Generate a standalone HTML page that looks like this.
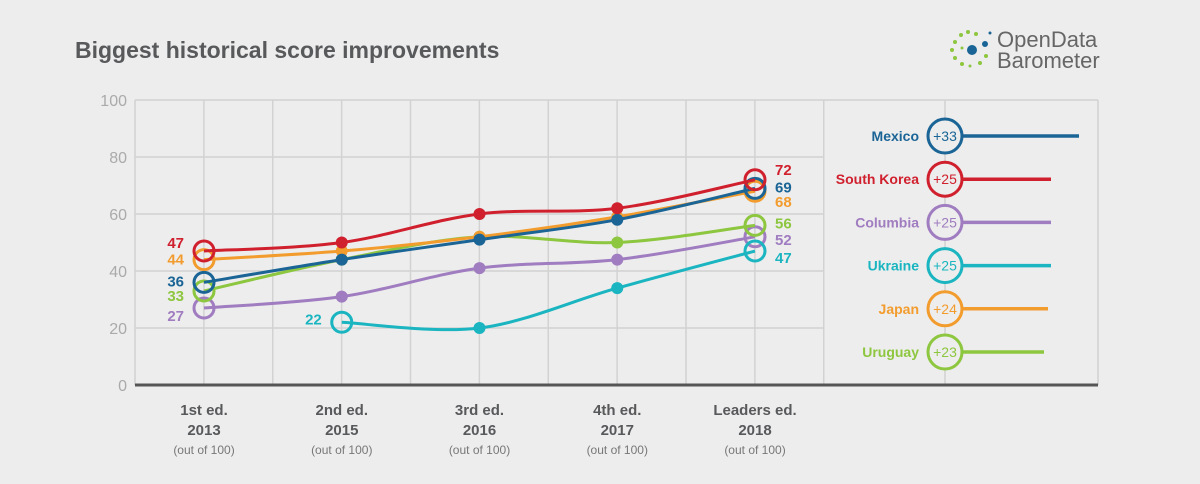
<!DOCTYPE html>
<html><head><meta charset="utf-8"><style>
body{margin:0;background:#ededed;}
svg{display:block;font-family:"Liberation Sans",sans-serif;}
</style></head><body>
<svg id="c" width="1200" height="484" viewBox="0 0 1200 484">
<rect width="1200" height="484" fill="#ededed"/>
<text x="75" y="58" font-size="23" font-weight="bold" fill="#58595b">Biggest historical score improvements</text>
<g>
<circle cx="972" cy="50" r="5" fill="#1a6496"/><circle cx="985" cy="44" r="3" fill="#1a6496"/><circle cx="990" cy="33" r="1.5" fill="#1a6496"/>
<g fill="#8dc63f"><circle cx="955" cy="42" r="2"/><circle cx="952" cy="50" r="2"/><circle cx="955" cy="58" r="2"/><circle cx="961" cy="35" r="2"/><circle cx="968" cy="32" r="2"/><circle cx="976" cy="34" r="2"/><circle cx="962" cy="64" r="2"/><circle cx="980" cy="63" r="2"/><circle cx="986" cy="56" r="2"/><circle cx="970" cy="66" r="1.5"/><circle cx="962" cy="48" r="1.5"/></g>
<text x="997" y="47" font-size="22" fill="#666">OpenData</text>
<text x="997" y="68" font-size="22" fill="#666">Barometer</text>
</g>
<g id="grid"></g><g id="lines"></g><g id="legend"></g>
</svg>
<script>
const categories=["1st ed.|2013","2nd ed.|2015","3rd ed.|2016","4th ed.|2017","Leaders ed.|2018"];
const yTicks=[0,20,40,60,80,100];
const names=["Mexico","South Korea","Columbia","Ukraine","Japan","Uruguay"];
const colors=["#1a6496","#d0202e","#a07cc0","#1ab5c0","#f39c2e","#8dc63f"];
const mexico=[36,44,51,58,69];
const southKorea=[47,50,60,62,72];
const columbia=[27,31,41,44,52];
const ukraine=[null,22,20,34,47];
const japan=[44,47,52,59,68];
const uruguay=[33,44,52,50,56];
const gains=["+33","+25","+25","+25","+24","+23"];
const legendLen=[134,106,106,106,103,99];
const series=[mexico,southKorea,columbia,ukraine,japan,uruguay];
const NS="http://www.w3.org/2000/svg";
const X=i=>204+i*137.75, Y=v=>385-2.85*v;
function el(t,a,p){const e=document.createElementNS(NS,t);for(const k in a)e.setAttribute(k,a[k]);p.appendChild(e);return e;}
const g=document.getElementById('grid');
yTicks.forEach(t=>{
 if(t>0){const l=el('line',{x1:135,x2:824,y1:Y(t),y2:Y(t),stroke:'#d2d2d2','stroke-width':1.5},g);
 
 }
 const tx=el('text',{x:127,y:Y(t)+6,'text-anchor':'end','font-size':16,fill:'#aaa'},g);tx.textContent=t;
 
 
});
el('line',{x1:824,x2:1098,y1:100,y2:100,stroke:'#d2d2d2','stroke-width':1.5},g);
for(let k=0;k<=10;k++){const x=135+k*68.875;
 const l=el('line',{x1:x,x2:x,y1:100,y2:385,stroke:'#d2d2d2','stroke-width':1.5},g);
 
 }
el('line',{x1:945,x2:945,y1:100,y2:385,stroke:'#d2d2d2','stroke-width':1.5},g);
el('line',{x1:1098,x2:1098,y1:100,y2:385,stroke:'#d2d2d2','stroke-width':1.5},g);
const ax=el('line',{x1:135,x2:1098,y1:385,y2:385,stroke:'#555','stroke-width':3},g);


categories.forEach((c,i)=>{const [a,b]=c.split('|');
 const t=el('text',{x:X(i),y:415,'text-anchor':'middle','font-size':15,'font-weight':'bold',fill:'#58595b'},g);
 
 
 el('tspan',{x:X(i)},t).textContent=a;el('tspan',{x:X(i),dy:20},t).textContent=b;
 el('tspan',{x:X(i),dy:19,'font-size':12,'font-weight':'normal',fill:'#777'},t).textContent='(out of 100)';
});
const L=document.getElementById('lines');
function pathOf(pts){let d='M'+pts[0][0]+','+pts[0][1];
 for(let i=0;i<pts.length-1;i++){const p0=pts[i-1]||pts[i],p1=pts[i],p2=pts[i+1],p3=pts[i+2]||p2;
  d+=' C'+(p1[0]+(p2[0]-p0[0])/6)+','+(p1[1]+(p2[1]-p0[1])/6)+' '+(p2[0]-(p3[0]-p1[0])/6)+','+(p2[1]-(p3[1]-p1[1])/6)+' '+p2[0]+','+p2[1];}
 return d;}
const order=[2,3,5,4,0,1];
order.forEach(s=>{const vals=series[s],col=colors[s];
 const grp=el('g',{},L);
 
 
 const pts=[];vals.forEach((v,i)=>{if(v!=null)pts.push([X(i),Y(v),v]);});
 el('path',{d:pathOf(pts),fill:'none',stroke:col,'stroke-width':3},grp);
 pts.forEach((p,i)=>{const end=i==0||i==pts.length-1;
  const c=el('circle',{cx:p[0],cy:p[1],r:end?10:6,fill:end?'none':col,stroke:col,'stroke-width':end?3:0},grp);
  
  
 });
});
const firstOff=[-2,-9,7,-4,-1,4], lastOff=[-2,-11,2,6,10,-3];
series.forEach((vals,s)=>{
 let fi=vals.findIndex(v=>v!=null), li=vals.length-1;
 const t1=el('text',{x:X(fi)-20,y:Y(vals[fi])+6+firstOff[s],'text-anchor':'end','font-size':15,'font-weight':'bold',fill:colors[s]},L);
 t1.textContent=vals[fi];
 
 
 const t2=el('text',{x:X(li)+20,y:Y(vals[li])+6+lastOff[s],'font-size':15,'font-weight':'bold',fill:colors[s]},L);
 t2.textContent=vals[li];
 
 
});
const G=document.getElementById('legend');
names.forEach((n,i)=>{const y=136+i*43.2;
 const grp=el('g',{},G);
 
 
 el('line',{x1:962,x2:945+legendLen[i],y1:y,y2:y,stroke:colors[i],'stroke-width':3.5},grp);
 el('circle',{cx:945,cy:y,r:17,fill:'#ededed',stroke:colors[i],'stroke-width':3},grp);
 el('text',{x:945,y:y+5,'text-anchor':'middle','font-size':14,fill:colors[i]},grp).textContent=gains[i];
 el('text',{x:919,y:y+5,'text-anchor':'end','font-size':14,'font-weight':'bold',fill:colors[i]},grp).textContent=n;
});
</script>
</body></html>
